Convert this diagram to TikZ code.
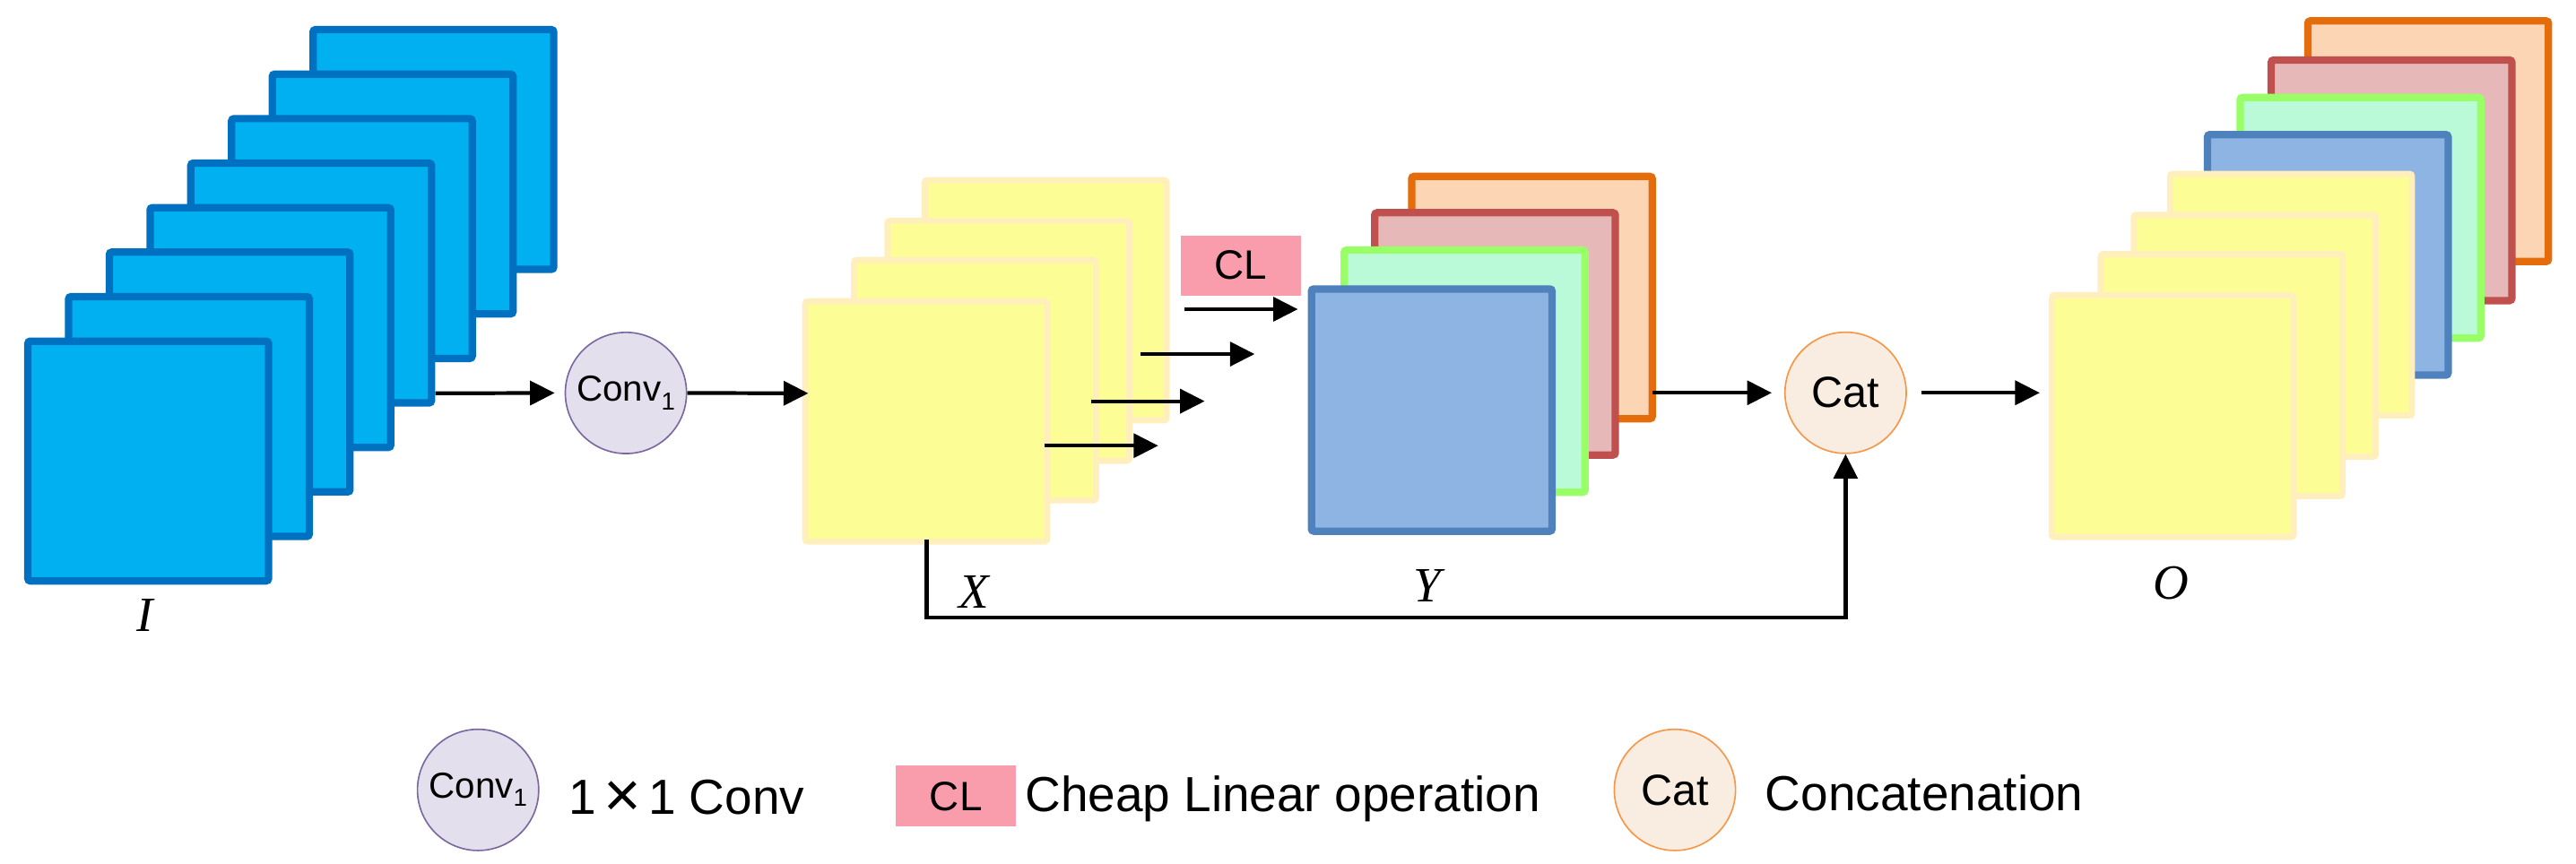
\documentclass[tikz,border=0pt]{standalone}
\usepackage{fontspec}
\setmainfont{Liberation Sans}
\newfontfamily\tnr{Liberation Serif}
\usetikzlibrary{arrows.meta}
\definecolor{blueF}{HTML}{00B0F0}
\definecolor{blueD}{HTML}{0070C0}
\definecolor{yelF}{HTML}{FDFD96}
\definecolor{yelD}{HTML}{FFEFBD}
\definecolor{ybF}{HTML}{8EB4E3}
\definecolor{ybD}{HTML}{4F81BD}
\definecolor{grF}{HTML}{BBFAD9}
\definecolor{grD}{HTML}{99FF66}
\definecolor{rdF}{HTML}{E6B9B8}
\definecolor{rdD}{HTML}{C0504D}
\definecolor{orF}{HTML}{FCD5B5}
\definecolor{orD}{HTML}{E46C0A}
\definecolor{cvF}{HTML}{E4DFEC}
\definecolor{cvD}{HTML}{7B68A0}
\definecolor{ctF}{HTML}{F9EDE1}
\definecolor{ctD}{HTML}{F79646}
\definecolor{clF}{HTML}{F99DAC}
\begin{document}
\begin{tikzpicture}[x=1pt,y=-1pt,
  fm/.style={draw, line width=4.5pt, rounded corners=1.5pt, inner sep=0pt, outer sep=0pt,
             minimum width=146.5pt, minimum height=146pt},
  sqB/.style={fm, fill=blueF, draw=blueD},
  sqX/.style={fm, line width=3.8pt, minimum width=147.2pt, minimum height=146.2pt, fill=yelF, draw=yelD},
  tall/.style={minimum height=147.5pt},
  sqo/.style={minimum height=146.5pt},
  sqYe/.style={fm, line width=3.8pt, minimum width=147.2pt, minimum height=147.2pt, fill=yelF, draw=yelD},
  sqBl/.style={fm, fill=ybF, draw=ybD},
  sqGr/.style={fm, fill=grF, draw=grD},
  sqRd/.style={fm, fill=rdF, draw=rdD},
  sqOr/.style={fm, fill=orF, draw=orD},
  op/.style={circle, draw, line width=0.9pt, minimum size=73.8pt, inner sep=0pt},
  convop/.style={op, fill=cvF, draw=cvD, font=\fontsize{22}{26}\selectfont},
  catop/.style={op, fill=ctF, draw=ctD, font=\fontsize{26.5}{30}\selectfont},
  clbox/.style={fill=clF, inner sep=0pt, minimum width=73.4pt, minimum height=36.5pt, font=\fontsize{25}{30}\selectfont},
  arr/.style={line width=2.3pt, line join=miter, -{Triangle[length=15pt,width=14.6pt]}},
  lab/.style={font=\tnr\itshape\fontsize{30}{36}\selectfont, inner sep=0pt, anchor=base},
  leg/.style={font=\fontsize{30}{36}\selectfont, inner sep=0pt, anchor=base west}]
\useasboundingbox (0,0) rectangle (1568,526);

% ---- input I (blue stack)
\foreach \i in {7,6,...,0}{
  \node[sqB] (i\i) at ({90.2+24.8*\i},{280.75-27.1*\i}) {};
}
\node[lab] (lI) at (88.2,384.6) {I};

% ---- conv
\node[convop] (conv) at (381,239.3) {Conv\raisebox{-5pt}{\fontsize{15}{15}\selectfont 1}};

% ---- X (yellow stack)
\node[sqX] (x4) at (636.5,182.8) {};
\node[sqX] (x3) at (613.8,207.5) {};
\node[sqX] (x2) at (593.5,231.5) {};
\node[sqX] (x1) at (563.8,256.6) {};
\node[lab] (lX) at (593,370.2) {X};

% ---- CL
\node[clbox] (cl) at (755.3,161.65) {CL};

% ---- Y stack
\node[sqOr, tall] (y4) at (932.5,181.2) {};
\node[sqRd, tall] (y3) at (910,203.3) {};
\node[sqGr, tall] (y2) at (891.5,226) {};
\node[sqBl, tall] (y1) at (871.5,249.7) {};
\node[lab] (lY) at (869,366.6) {Y};

% ---- Cat
\node[catop] (cat) at (1123.4,239.2) {Cat};

% ---- O stack
\node[sqOr, sqo] (o8) at (1478,86) {};
\node[sqRd, sqo] (o7) at (1455.7,109.8) {};
\node[sqGr, sqo] (o6) at (1436.8,132.6) {};
\node[sqBl, sqo] (o5) at (1416.9,155.2) {};
\node[sqYe] (o4) at (1394.5,179.5) {};
\node[sqYe] (o3) at (1372.4,204.5) {};
\node[sqYe] (o2) at (1352.3,228.4) {};
\node[sqYe] (o1) at (1322.5,253.4) {};
\node[lab] (lO) at (1321.5,364.6) {O};

% ---- connectors
\coordinate (iout) at (265,239.5);
\coordinate (xin) at (492,239.5);
\coordinate (yout) at (1006,239.2);
\coordinate (oin) at (1241.6,239.2);
\draw[arr] (iout) -- ([xshift=-6pt]conv.west);
\draw[arr] (conv.east) -- (xin);
\draw[arr] (yout) -- ([xshift=-7.6pt]cat.west);
\draw[arr] ([xshift=8.7pt]cat.east) -- (oin);

\coordinate (a1s) at (636,271.4);   \coordinate (a1e) at (705,271.4);
\coordinate (a2s) at (664.4,244.3); \coordinate (a2e) at (733.3,244.3);
\coordinate (a3s) at (694.1,215.6); \coordinate (a3e) at (763.7,215.6);
\coordinate (a4s) at (721,188.3);   \coordinate (a4e) at (790,188.3);
\draw[arr] (a1s) -- (a1e);
\draw[arr] (a2s) -- (a2e);
\draw[arr] (a3s) -- (a3e);
\draw[arr] (a4s) -- (a4e);

\coordinate (xskip) at (564.1,328.4);
\coordinate (skipc) at (1123.4,376.2);
\draw[arr] (xskip) |- (skipc) -- (cat.south);

% ---- legend
\node[convop] (lconv) at (291,481) {Conv\raisebox{-5pt}{\fontsize{15}{15}\selectfont 1}};
\node[leg] (tconv) at (346,496) {1\hspace{0.15em}\raisebox{-1.5pt}{\scalebox{1.3}{×}}\hspace{0.15em}1 Conv};
\node[clbox, minimum height=37.1pt, minimum width=73pt] (lcl) at (581.9,484.85) {CL};
\node[leg] (tcl) at (623.8,494) {Cheap Linear operation};
\node[catop] (lcat) at (1019.5,481) {Cat};
\node[leg] (tcat) at (1074.4,493.5) {Concatenation};
\end{tikzpicture}
\end{document}
